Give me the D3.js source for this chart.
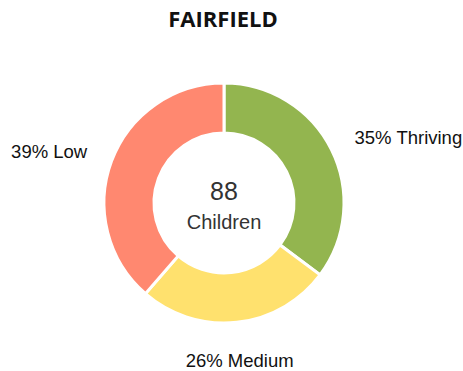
<!DOCTYPE html>
<html>
<head>
<meta charset="utf-8">
<script src="https://cdn.jsdelivr.net/npm/d3@7"></script>
<style>
  html, body { margin: 0; padding: 0; background: #fff; }
  svg { display: block; }
</style>
</head>
<body>
<script>
// Children by wellbeing band
const categories = ["Thriving", "Medium", "Low"];
const counts = [31, 23, 34];
const percentLabels = ["35%", "26%", "39%"];
const colors = ["#93b54f", "#ffe16e", "#ff8870"];
const title = "FAIRFIELD";
const totalLabel = "Children";

const width = 463, height = 371;
const cx = 224, cy = 203;
const outerR = 120, innerR = 70, labelR = 146;

const svg = d3.select("body").append("svg")
  .attr("width", width).attr("height", height);

svg.append("text")
  .attr("x", 223).attr("y", 27)
  .attr("text-anchor", "middle")
  .attr("font-family", "'Open Sans', sans-serif")
  .attr("font-weight", 700)
  .attr("font-size", 22)
  .attr("fill", "#111")
  .text(title);

const data = categories.map((c, i) => ({ name: c, value: counts[i], pct: percentLabels[i], color: colors[i] }));

const pie = d3.pie().value(d => d.value).sort(null);
const arc = d3.arc().innerRadius(innerR).outerRadius(outerR);
const arcs = pie(data);

const g = svg.append("g").attr("transform", `translate(${cx},${cy})`);

g.selectAll("path")
  .data(arcs)
  .join("path")
  .attr("d", arc)
  .attr("fill", d => d.data.color)
  .attr("stroke", "#fff")
  .attr("stroke-width", 3);

// Outside labels placed along each slice's mid-angle
g.selectAll("text.lbl")
  .data(arcs)
  .join("text")
  .attr("class", "lbl")
  .each(function(d) {
    const a = (d.startAngle + d.endAngle) / 2;
    const x = Math.sin(a) * labelR;
    const y = -Math.cos(a) * labelR;
    let anchor = "middle";
    if (Math.sin(a) > 0.3) anchor = "start";
    else if (Math.sin(a) < -0.3) anchor = "end";
    const dy = Math.cos(a) < -0.8 ? "1.0em" : "0.35em";
    d3.select(this)
      .attr("x", x).attr("y", y)
      .attr("dy", dy)
      .attr("text-anchor", anchor);
  })
  .attr("font-family", "'Liberation Sans', Arial, sans-serif")
  .attr("font-size", 18.5)
  .attr("fill", "#111")
  .text(d => `${d.data.pct} ${d.data.name}`);

const total = d3.sum(counts);
g.append("text")
  .attr("x", 0).attr("y", -3)
  .attr("text-anchor", "middle")
  .attr("font-family", "'Liberation Sans', Arial, sans-serif")
  .attr("font-size", 25)
  .attr("fill", "#333")
  .text(total);

g.append("text")
  .attr("x", 0).attr("y", 26)
  .attr("text-anchor", "middle")
  .attr("font-family", "'Liberation Sans', Arial, sans-serif")
  .attr("font-size", 20)
  .attr("fill", "#333")
  .text(totalLabel);
</script>
</body>
</html>
